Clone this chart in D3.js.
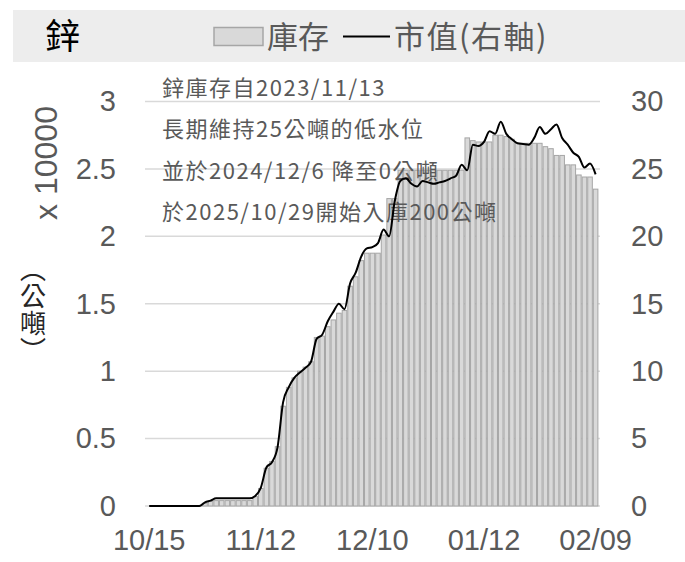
<!DOCTYPE html>
<html>
<head>
<meta charset="utf-8">
<script src="https://cdn.jsdelivr.net/npm/d3@7"></script>
<style>
  body { margin: 0; background: #fff; }
  svg { display: block; }
</style>
</head>
<body>
<svg id="chart" width="685" height="562"></svg>
<script>

// trading days, 2025/10/15 - 2026/02/09
var dates = [
  "10/15","10/16","10/17","10/20","10/21","10/22","10/23","10/24","10/27","10/28","10/29","10/30","10/31",
  "11/03","11/04","11/05","11/06","11/07","11/10","11/11","11/12","11/13","11/14","11/17","11/18","11/19",
  "11/20","11/21","11/24","11/25","11/26","11/27","11/28",
  "12/01","12/02","12/03","12/04","12/05","12/08","12/09","12/10","12/11","12/12","12/15","12/16","12/17",
  "12/18","12/19","12/22","12/23","12/24","12/29","12/30","12/31",
  "01/02","01/05","01/06","01/07","01/08","01/09","01/12","01/13","01/14","01/15","01/16","01/19","01/20",
  "01/21","01/22","01/23","01/26","01/27","01/28","01/29","01/30",
  "02/02","02/03","02/04","02/05","02/06","02/09"
];

// stock, x 10000 tonnes (left axis)
var stock = [
  0, 0, 0, 0, 0, 0, 0, 0, 0, 0,
  0.02, 0.035, 0.04, 0.04, 0.04, 0.04, 0.04, 0.04, 0.04, 0.07,
  0.13, 0.28, 0.33, 0.44, 0.74, 0.88, 0.95, 1.0, 1.03, 1.07,
  1.25, 1.26, 1.33, 1.38, 1.43, 1.45, 1.63, 1.70, 1.82, 1.875,
  1.875, 1.875, 2.01, 2.28, 2.28, 2.49, 2.49, 2.49, 2.49, 2.49,
  2.49, 2.49, 2.49, 2.49, 2.49, 2.49, 2.49, 2.73, 2.71, 2.70,
  2.70, 2.70, 2.75, 2.75, 2.74, 2.72, 2.69, 2.69, 2.69, 2.69,
  2.69, 2.665, 2.65, 2.60, 2.60, 2.53, 2.53, 2.455, 2.44, 2.44,
  2.35
];

// market value (right axis)
var value = [
  0, 0, 0, 0, 0, 0, 0, 0, 0, 0,
  0.27, 0.4, 0.57, 0.57, 0.57, 0.57, 0.57, 0.57, 0.57, 0.75,
  1.35, 2.85, 3.25, 4.35, 7.7, 8.8, 9.5, 9.9, 10.25, 10.7,
  12.4, 12.7, 13.7, 14.4, 15.0, 14.6, 16.5, 17.3, 18.5, 19.1,
  19.2, 19.5, 20.5, 20.0, 22.6, 24.1, 24.3, 23.9, 23.7, 24.1,
  24.0, 23.9, 24.0, 24.1, 24.3, 24.5, 25.3, 24.9, 26.8, 26.7,
  27.0, 27.8, 27.6, 28.5, 27.6, 27.2, 26.9, 26.85, 26.8, 27.3,
  28.1, 27.6, 27.95, 28.3, 27.3, 26.8, 26.2, 25.9, 25.1, 25.4,
  24.6
];

var tickDates = ["10/15", "11/12", "12/10", "01/12", "02/09"];
var leftTicks = [0, 0.5, 1, 1.5, 2, 2.5, 3];
var rightTicks = [0, 5, 10, 15, 20, 25, 30];

var notes = [
  "鋅庫存自2023/11/13",
  "長期維持25公噸的低水位",
  "並於2024/12/6 降至0公噸",
  "於2025/10/29開始入庫200公噸"
];

var latin = "'Liberation Sans', Arial, 'Noto Sans CJK TC', sans-serif";
var cjk = "'Noto Sans CJK TC', 'Liberation Sans', sans-serif";
var grey = "#595959";

var svg = d3.select("#chart");

var x = d3.scaleBand()
      .domain(dates)
      .range([146.4, 598.4])
      .paddingInner(0.18)
      .paddingOuter(0.09);

var yLeft = d3.scaleLinear().domain([0, 3]).range([506, 101.5]);
var yRight = d3.scaleLinear().domain([0, 30]).range([506, 101.5]);

var rows = dates.map(function(d, i) {
  return {date: d, stock: stock[i], value: value[i]};
});

// header band with title and legend
function draw_header() {
  svg.append("rect")
    .attr("x", 13).attr("y", 10)
    .attr("width", 672).attr("height", 52)
    .attr("fill", "#ededed");

  svg.append("text")
    .attr("x", 45).attr("y", 49)
    .attr("font-family", cjk)
    .attr("font-size", 35)
    .attr("fill", "#000")
    .text("鋅");

  svg.append("rect")
    .attr("x", 214).attr("y", 27.5)
    .attr("width", 49).attr("height", 18)
    .attr("fill", "#d9d9d9")
    .attr("stroke", "#a6a6a6")
    .attr("stroke-width", 1.5);

  svg.append("text")
    .attr("x", 267).attr("y", 48)
    .attr("font-family", cjk)
    .attr("font-size", 31)
    .attr("fill", grey)
    .text("庫存");

  svg.append("line")
    .attr("x1", 343).attr("x2", 390)
    .attr("y1", 36.5).attr("y2", 36.5)
    .attr("stroke", "#000")
    .attr("stroke-width", 2);

  svg.append("text")
    .attr("x", 394).attr("y", 48)
    .attr("font-family", cjk)
    .attr("font-size", 31)
    .attr("letter-spacing", 1.5)
    .attr("fill", grey)
    .text("市值(右軸)");
}

function draw_grid() {
  svg.append("g")
    .selectAll("line")
    .data(leftTicks)
    .enter()
    .append("line")
      .attr("x1", 145).attr("x2", 600)
      .attr("y1", function(d) { return yLeft(d); })
      .attr("y2", function(d) { return yLeft(d); })
      .attr("stroke", "#d9d9d9")
      .attr("stroke-width", 1.5);
}

function draw_bars() {
  svg.append("g")
    .selectAll("rect")
    .data(rows.filter(function(d) { return d.stock > 0; }))
    .enter()
    .append("rect")
      .attr("x", function(d) { return x(d.date); })
      .attr("width", x.bandwidth())
      .attr("y", function(d) { return yLeft(d.stock); })
      .attr("height", function(d) { return yLeft(0) - yLeft(d.stock); })
      .attr("fill", "#d9d9d9")
      .attr("stroke", "#a6a6a6")
      .attr("stroke-width", 1);
}

function draw_notes() {
  svg.append("g")
    .selectAll("text")
    .data(notes)
    .enter()
    .append("text")
      .attr("x", 162)
      .attr("y", function(d, i) { return 96 + i * 41.3; })
      .attr("font-family", cjk)
      .attr("font-size", 22)
      .attr("letter-spacing", 1.5)
      .attr("fill", grey)
      .text(function(d) { return d; });
}

function draw_line() {
  var line = d3.line()
        .x(function(d) { return x(d.date) + x.bandwidth() / 2; })
        .y(function(d) { return yRight(d.value); })
        .curve(d3.curveMonotoneX);

  svg.append("path")
    .datum(rows)
    .attr("d", line)
    .attr("fill", "none")
    .attr("stroke", "#000")
    .attr("stroke-width", 2)
    .attr("stroke-linejoin", "round");
}

function draw_axes() {
  var left = svg.append("g")
        .attr("transform", "translate(116,0)")
        .call(d3.axisLeft(yLeft).tickValues(leftTicks).tickSize(0).tickPadding(0)
              .tickFormat(function(d) { return String(d); }));

  var right = svg.append("g")
        .attr("transform", "translate(631,0)")
        .call(d3.axisRight(yRight).tickValues(rightTicks).tickSize(0).tickPadding(0));

  var bottom = svg.append("g")
        .attr("transform", "translate(0,529)")
        .call(d3.axisBottom(x).tickValues(tickDates).tickSize(0).tickPadding(0));

  [left, right, bottom].forEach(function(g) {
    g.select(".domain").remove();
    g.selectAll("text")
      .attr("font-family", latin)
      .attr("font-size", 29)
      .attr("fill", grey);
  });

  // axis title, left
  svg.append("text")
    .attr("transform", "translate(57,163) rotate(-90)")
    .attr("text-anchor", "middle")
    .attr("font-family", latin)
    .attr("font-size", 32)
    .attr("fill", grey)
    .text("x 10000");

  // unit, written top to bottom
  svg.append("text")
    .attr("x", 33).attr("y", 256)
    .style("writing-mode", "vertical-rl")
    .attr("font-family", cjk)
    .attr("font-size", 26)
    .attr("letter-spacing", 1)
    .attr("fill", "#262626")
    .text("（公噸）");
}

draw_header();
draw_grid();
draw_bars();
draw_notes();
draw_line();
draw_axes();

</script>
</body>
</html>
